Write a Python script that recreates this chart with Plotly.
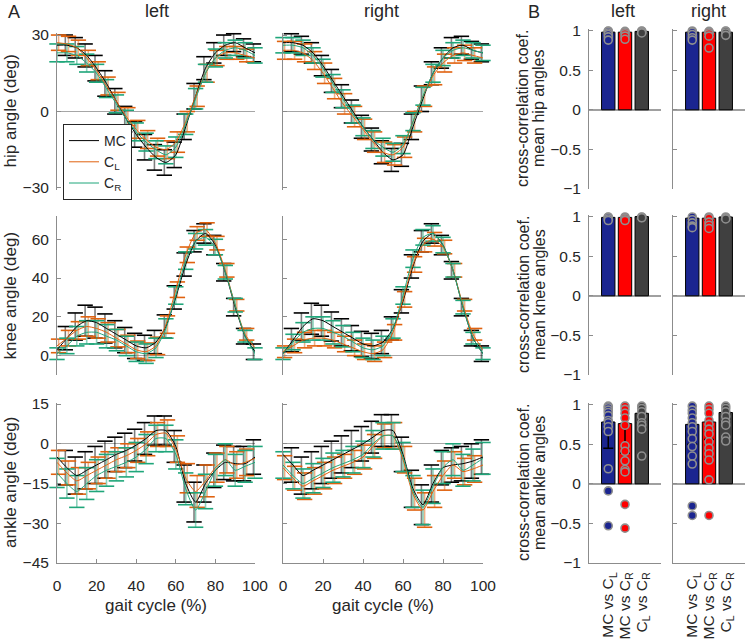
import plotly.graph_objects as go

# ---------------- data ----------------
gait_pct = [0, 5, 10, 15, 20, 25, 30, 35, 40, 45, 50, 55, 60, 65, 70, 75, 80, 85, 90, 95, 100]

hip_left_mc = [26, 26, 25, 22, 17, 11, 4, -3, -9, -14, -18, -20, -17, -6, 6, 17, 23, 26, 27, 25, 23]
hip_left_mc_sd = [4, 4, 4, 4.5, 5, 5, 5, 5, 5, 5, 5, 5, 5, 5, 5, 4.5, 4, 4, 3.5, 3.5, 3.5]
hip_left_cl = [27, 26.5, 25, 21, 16, 10, 4, -2, -7, -11, -14, -15, -12, -4, 6, 15, 21, 23, 23, 22, 21]
hip_left_cl_sd = [3, 3, 3, 3, 3.5, 3.5, 3.5, 3.5, 3.5, 3.5, 3.5, 3.5, 4, 4, 4, 3.5, 3, 2.5, 2.5, 2.5, 2.5]
hip_left_cr = [23, 23, 22, 19, 15, 9, 3, -3, -8, -12, -15, -17, -14, -5, 5, 15, 21, 24, 25, 24, 22]
hip_left_cr_sd = [3.5, 3.5, 3.5, 3.5, 3.5, 3.5, 3.5, 3.5, 3.5, 3.5, 3.5, 3.5, 4, 4, 4, 3.5, 3.5, 3, 3, 3, 3]

hip_right_mc = [27, 27, 26, 23, 18, 12, 6, 0, -6, -11, -16, -19, -17, -6, 5, 15, 21, 25, 26, 24, 23]
hip_right_mc_sd = [3.5, 3.5, 3.5, 4, 4, 4.5, 4.5, 4.5, 4.5, 4.5, 4.5, 4.5, 4.5, 5, 5, 4.5, 4, 4, 3.5, 3.5, 3.5]
hip_right_cl = [24, 24, 23, 20, 15, 9, 3, -2, -7, -12, -16, -17, -14, -4, 6, 14, 19, 22, 23, 22, 21]
hip_right_cl_sd = [3.5, 3.5, 3.5, 3.5, 4, 4, 4, 4, 4, 4, 4, 4, 4, 4, 4, 3.5, 3.5, 3, 3, 3, 3]
hip_right_cr = [26, 26, 25, 22, 17, 11, 5, -1, -6, -11, -14, -16, -13, -4, 6, 15, 21, 24, 25, 24, 23]
hip_right_cr_sd = [3, 3, 3, 3, 3.5, 3.5, 3.5, 3.5, 3.5, 3.5, 3.5, 3.5, 3.5, 3.5, 3.5, 3.5, 3, 3, 3, 3, 3]

knee_left_mc = [3, 9, 15, 18, 17, 14, 11, 8, 5, 4, 7, 15, 30, 47, 59, 63, 57, 43, 25, 10, 2]
knee_left_mc_sd = [5, 6, 7, 8, 8, 7.5, 7, 6.5, 6.5, 6.5, 6, 6, 6, 6, 5.5, 5, 5, 4.5, 4.5, 4, 4]
knee_left_cl = [5, 9, 13, 15, 14, 12, 9, 6, 3, 2, 5, 16, 34, 52, 63, 65, 58, 44, 26, 11, 4]
knee_left_cl_sd = [3.5, 4, 4.5, 5, 5, 5, 4.5, 4.5, 4.5, 4.5, 4.5, 4.5, 4, 4, 3.5, 3.5, 3.5, 3.5, 3, 3, 3]
knee_left_cr = [1, 5, 10, 12, 12, 10, 8, 5, 2, 1, 4, 14, 31, 49, 59, 61, 56, 43, 26, 10, 1]
knee_left_cr_sd = [3, 4, 5, 6, 6, 6, 5.5, 5, 5, 5, 5, 5, 4.5, 4.5, 4, 4, 4, 3.5, 3.5, 3, 3]

knee_right_mc = [1, 8, 15, 19, 18, 15, 12, 9, 6, 5, 7, 14, 28, 46, 59, 63, 57, 44, 25, 9, 1]
knee_right_mc_sd = [5, 6, 7, 8, 8, 7.5, 7, 6.5, 6.5, 6.5, 6, 6, 6, 6, 5.5, 5, 5, 4.5, 4.5, 4, 4]
knee_right_cl = [2, 5, 8, 9, 9, 8, 6, 4, 2, 1, 3, 12, 29, 47, 57, 60, 56, 44, 26, 11, 3]
knee_right_cl_sd = [3, 3.5, 4, 4, 4, 4, 4, 4, 4, 4, 4, 4, 4, 4, 3.5, 3.5, 3.5, 3.5, 3, 3, 3]
knee_right_cr = [1, 7, 12, 14, 14, 12, 10, 7, 4, 3, 5, 14, 31, 50, 61, 63, 57, 44, 25, 9, 1]
knee_right_cr_sd = [3, 4, 5, 6, 6, 6, 5.5, 5, 5, 5, 5, 5, 4.5, 4.5, 4, 4, 4, 3.5, 3.5, 3, 3]

ankle_left_mc = [-5, -9, -12, -10, -8, -6, -4, -2.5, -0.5, 2, 5, 5, -1, -15, -22, -15, -10, -7, -7.5, -7.5, -5]
ankle_left_mc_sd = [6, 6.5, 7, 7, 7, 7, 6.5, 6.5, 6, 6, 5.5, 5.5, 6, 7, 7.5, 7, 6.5, 6.5, 6.5, 6.5, 6.5]
ankle_left_cl = [-7, -11, -14, -12, -10, -8, -6, -4.5, -2.5, 0, 3.5, 4, -2, -13, -18, -14, -9, -6, -8, -7, -5.5]
ankle_left_cl_sd = [4.5, 4.5, 5, 5, 5, 5, 4.5, 4.5, 4.5, 4.5, 4.5, 5, 5, 5.5, 6, 6, 5.5, 5, 5, 5, 5]
ankle_left_cr = [-11, -15, -18, -15, -12, -10, -8.5, -7, -5, -2, 2, 2, -4, -17, -25, -18, -10, -6, -10, -8.5, -7]
ankle_left_cr_sd = [5.5, 5.5, 6, 6, 6, 6, 5.5, 5.5, 5.5, 5.5, 5, 5, 5.5, 6, 6.5, 6.5, 6, 6, 6, 6, 6]

ankle_right_mc = [-4, -8, -12, -10, -8, -6, -4, -2, 0, 2.5, 5, 5, -4, -17, -23, -15, -9, -8, -7.5, -6.5, -5]
ankle_right_mc_sd = [6, 6.5, 7, 7, 7, 7, 7, 7, 6.5, 6, 6, 6, 6.5, 7, 7.5, 7, 6.5, 6.5, 6.5, 6.5, 6.5]
ankle_right_cl = [-9, -13, -16, -14, -12, -10, -8.5, -7, -5, -1, 3, 3, -6, -19, -25, -18, -12, -8, -10.5, -9.5, -8]
ankle_right_cl_sd = [4.5, 4.5, 5, 5, 5, 5, 4.5, 4.5, 4.5, 4.5, 4.5, 5, 5, 6, 6.5, 6, 5.5, 5, 5, 5, 5]
ankle_right_cr = [-8, -12, -15, -13, -11, -9, -7.5, -6, -4, 0, 3, 3, -5, -18, -24, -16, -9, -6, -10, -8, -5.5]
ankle_right_cr_sd = [5, 5, 5.5, 5.5, 5.5, 5.5, 5, 5, 5, 5, 5, 5, 5.5, 6, 6.5, 6.5, 6, 6, 6, 6, 6]

# cross-correlation bars (B)
comparisons = ["MC vs C<sub>L</sub>", "MC vs C<sub>R</sub>", "C<sub>L</sub> vs C<sub>R</sub>"]
bar_hip_left = [0.98, 0.98, 0.99]
bar_hip_right = [0.98, 0.98, 0.98]
bar_knee_left = [0.99, 0.99, 1.0]
bar_knee_right = [0.98, 0.98, 0.995]
bar_ankle_left = [0.78, 0.76, 0.89]
bar_ankle_right = [0.75, 0.78, 0.90]
err_hip_left = [0.02, 0.02, 0.01]
err_hip_right = [0.02, 0.04, 0.01]
err_knee_left = [0.01, 0.01, 0.005]
err_knee_right = [0.03, 0.03, 0.01]
err_ankle_left = [0.33, 0.37, 0.12]
err_ankle_right = [0.25, 0.22, 0.12]

pts_hip_left = [[0.995, 0.99, 0.97, 0.95, 0.92, 0.88],
                [0.99, 0.98, 0.96, 0.93, 0.89],
                [0.995, 0.99, 0.98, 0.97]]
pts_hip_right = [[0.995, 0.98, 0.95, 0.91, 0.88],
                 [0.99, 0.98, 0.96, 0.93, 0.78],
                 [0.995, 0.99, 0.97, 0.94]]
pts_knee_left = [[0.995, 0.99, 0.97, 0.95],
                 [0.995, 0.98, 0.96, 0.95],
                 [0.995, 0.99, 0.985]]
pts_knee_right = [[0.995, 0.96, 0.92, 0.88, 0.86],
                  [0.995, 0.98, 0.93, 0.89, 0.85],
                  [0.995, 0.98, 0.97]]
pts_ankle_left = [[0.98, 0.96, 0.93, 0.90, 0.86, 0.80, 0.77, 0.72, 0.66, 0.19, -0.09, -0.53],
                  [0.98, 0.94, 0.89, 0.83, 0.74, 0.48, 0.41, 0.29, 0.18, 0.15, -0.26, -0.56],
                  [0.98, 0.95, 0.91, 0.85, 0.77, 0.74, 0.69, 0.35]]
pts_ankle_right = [[0.98, 0.93, 0.89, 0.83, 0.77, 0.72, 0.66, 0.57, 0.47, 0.35, 0.25, -0.28, -0.40],
                   [0.98, 0.94, 0.89, 0.80, 0.75, 0.69, 0.63, 0.53, 0.45, 0.38, 0.30, 0.05, -0.40],
                   [0.98, 0.95, 0.91, 0.85, 0.78, 0.74, 0.59, 0.54]]

line_data = {
    ("hip", "left"): {"MC": (hip_left_mc, hip_left_mc_sd), "CL": (hip_left_cl, hip_left_cl_sd), "CR": (hip_left_cr, hip_left_cr_sd)},
    ("hip", "right"): {"MC": (hip_right_mc, hip_right_mc_sd), "CL": (hip_right_cl, hip_right_cl_sd), "CR": (hip_right_cr, hip_right_cr_sd)},
    ("knee", "left"): {"MC": (knee_left_mc, knee_left_mc_sd), "CL": (knee_left_cl, knee_left_cl_sd), "CR": (knee_left_cr, knee_left_cr_sd)},
    ("knee", "right"): {"MC": (knee_right_mc, knee_right_mc_sd), "CL": (knee_right_cl, knee_right_cl_sd), "CR": (knee_right_cr, knee_right_cr_sd)},
    ("ankle", "left"): {"MC": (ankle_left_mc, ankle_left_mc_sd), "CL": (ankle_left_cl, ankle_left_cl_sd), "CR": (ankle_left_cr, ankle_left_cr_sd)},
    ("ankle", "right"): {"MC": (ankle_right_mc, ankle_right_mc_sd), "CL": (ankle_right_cl, ankle_right_cl_sd), "CR": (ankle_right_cr, ankle_right_cr_sd)},
}
bar_data = {
    ("hip", "left"): (bar_hip_left, err_hip_left, pts_hip_left),
    ("hip", "right"): (bar_hip_right, err_hip_right, pts_hip_right),
    ("knee", "left"): (bar_knee_left, err_knee_left, pts_knee_left),
    ("knee", "right"): (bar_knee_right, err_knee_right, pts_knee_right),
    ("ankle", "left"): (bar_ankle_left, err_ankle_left, pts_ankle_left),
    ("ankle", "right"): (bar_ankle_right, err_ankle_right, pts_ankle_right),
}

# ---------------- styling / layout ----------------
W, H = 747, 642
FONT = "Liberation Sans, Arial, Helvetica, sans-serif"
TXT = "#262626"
AXC = "#8c8c8c"

def fx(p):
    return p / W

def fy(p):
    return 1 - p / H

LINE_COLS = [(57, 255), (283, 483)]
BAR_COLS = [(589, 661), (673, 745)]
LINE_ROWS = [(33, 190), (216, 375), (403, 563)]
BAR_ROWS = [(29, 189), (215, 375), (403, 563)]

joints = ["hip", "knee", "ankle"]
sides = ["left", "right"]
y_ranges = {"hip": [-30.8, 30.8], "knee": [-10, 72], "ankle": [-45, 15.4]}
y_ticks = {"hip": [-30, 0, 30], "knee": [0, 20, 40, 60], "ankle": [-45, -30, -15, 0, 15]}
bar_ticks = [-1, -0.5, 0, 0.5, 1]
bar_ticktext = ["\u22121", "\u22120.5", "0", "0.5", "1"]
gait_ticks = [0, 20, 40, 60, 80, 100]

series_names = {"MC": "MC", "CL": "C<sub>L</sub>", "CR": "C<sub>R</sub>"}
series_style = {
    "MC": dict(color="#000000", err="rgba(0,0,0,0.5)", dx=-0.8),
    "CL": dict(color="#E0620F", err="rgba(224,98,15,0.5)", dx=0.8),
    "CR": dict(color="#1FA67A", err="rgba(31,166,122,0.5)", dx=0.0),
}
bar_colors = ["#1b2590", "#ff0000", "#404040"]

fig = go.Figure()
layout = {}

def axname(kind, idx):
    return kind if idx == 1 else f"{kind}{idx}"

for r, joint in enumerate(joints):
    for c, side in enumerate(sides):
        idx = r * 4 + c + 1
        xa, ya = axname("x", idx), axname("y", idx)
        sd_dict = line_data[(joint, side)]
        for key in ["MC", "CL", "CR"]:
            mean, sd = sd_dict[key]
            st = series_style[key]
            xs = [g + st["dx"] for g in gait_pct]
            fig.add_trace(go.Scatter(
                x=xs, y=mean, mode="markers", xaxis=xa, yaxis=ya,
                marker=dict(size=2, color="rgba(0,0,0,0)"),
                error_y=dict(type="data", array=sd, symmetric=True, width=0,
                             thickness=1.6, color=st["err"]),
                showlegend=False, hoverinfo="skip", cliponaxis=False))
            ups = [m + s for m, s in zip(mean, sd)]
            downs = [m - s for m, s in zip(mean, sd)]
            fig.add_trace(go.Scatter(
                x=xs + xs, y=ups + downs, mode="markers", xaxis=xa, yaxis=ya,
                marker=dict(symbol="line-ew", size=11,
                            line=dict(width=1.6, color=st["color"])),
                showlegend=False, hoverinfo="skip", cliponaxis=False))
        for key in ["MC", "CL", "CR"]:
            mean, sd = sd_dict[key]
            st = series_style[key]
            fig.add_trace(go.Scatter(
                x=gait_pct, y=mean, mode="lines", xaxis=xa, yaxis=ya,
                name=series_names[key], legendgroup=key,
                showlegend=(idx == 1),
                line=dict(color=st["color"], width=1, shape="spline", smoothing=0.6)))

        # bar panels
        bidx = r * 4 + 2 + c + 1
        bxa, bya = axname("x", bidx), axname("y", bidx)
        vals, errs, pts = bar_data[(joint, side)]
        fig.add_trace(go.Bar(
            x=[1, 2, 3], y=vals, width=0.8, xaxis=bxa, yaxis=bya,
            marker=dict(color=bar_colors, line=dict(color="black", width=1)),
            error_y=dict(type="data", symmetric=False, array=[0, 0, 0],
                         arrayminus=errs, color="black", thickness=1.5, width=5),
            showlegend=False, hoverinfo="skip"))
        for k in range(3):
            fig.add_trace(go.Scatter(
                x=[k + 1] * len(pts[k]), y=pts[k], mode="markers",
                xaxis=bxa, yaxis=bya, cliponaxis=False,
                marker=dict(size=8, color=bar_colors[k],
                            line=dict(color="#8f8f8f", width=1.6)),
                showlegend=False, hoverinfo="skip"))

tickfont = dict(family=FONT, size=15.5, color=TXT)

for r, joint in enumerate(joints):
    for c in range(4):
        idx = r * 4 + c + 1
        xk = "xaxis" if idx == 1 else f"xaxis{idx}"
        yk = "yaxis" if idx == 1 else f"yaxis{idx}"
        if c < 2:
            x0, x1 = LINE_COLS[c]
            y0, y1 = LINE_ROWS[r]
            xax = dict(domain=[fx(x0), fx(x1)], anchor=axname("y", idx), range=[0, 100],
                       showgrid=False, zeroline=False, fixedrange=True, automargin=False)
            if joint == "ankle":
                xax.update(showline=True, linecolor=AXC, linewidth=1, ticks="inside",
                           ticklen=4, tickcolor=AXC, tickvals=gait_ticks,
                           tickfont=tickfont, ticklabelstandoff=8,
                           title=dict(text="gait cycle (%)", standoff=6,
                                      font=dict(family=FONT, size=17, color=TXT)))
            else:
                xax.update(visible=False)
            yax = dict(domain=[fy(y1), fy(y0)], anchor=axname("x", idx),
                       range=y_ranges[joint], tickvals=y_ticks[joint],
                       showline=True, linecolor=AXC, linewidth=1, ticks="inside",
                       ticklen=4, tickcolor=AXC, showgrid=False,
                       zeroline=True, zerolinecolor="#a6a6a6", zerolinewidth=1,
                       showticklabels=(c == 0), tickfont=tickfont, ticklabelstandoff=4,
                       fixedrange=True, automargin=False)
        else:
            x0, x1 = BAR_COLS[c - 2]
            y0, y1 = BAR_ROWS[r]
            xax = dict(domain=[fx(x0), fx(x1)], anchor=axname("y", idx),
                       range=[-0.15, 4.15], showgrid=False, zeroline=False,
                       fixedrange=True, automargin=False)
            if joint == "ankle":
                xax.update(showline=True, linecolor=AXC, linewidth=1, ticks="",
                           tickvals=[1, 2, 3], ticktext=comparisons, tickangle=-90,
                           tickfont=tickfont, ticklabelstandoff=2)
            else:
                xax.update(visible=False)
            yax = dict(domain=[fy(y1), fy(y0)], anchor=axname("x", idx),
                       range=[-1, 1.02], tickvals=bar_ticks, ticktext=bar_ticktext,
                       showline=True, linecolor=AXC, linewidth=1, ticks="inside",
                       ticklen=4, tickcolor=AXC, showgrid=False,
                       zeroline=True, zerolinecolor="#a0a0a0", zerolinewidth=1.6,
                       showticklabels=(c == 2), tickfont=tickfont, ticklabelstandoff=4,
                       fixedrange=True, automargin=False)
        layout[xk] = xax
        layout[yk] = yax

annotations = []

def txt(x, y, s, size, angle=0):
    annotations.append(dict(x=fx(x), y=fy(y), xref="paper", yref="paper", text=s,
                            showarrow=False, textangle=angle, xanchor="center",
                            yanchor="middle", font=dict(family=FONT, size=size, color=TXT)))

txt(14, 12, "A", 18)
txt(534, 12, "B", 18)
txt(157, 11, "left", 18)
txt(381, 11, "right", 18)
txt(623, 11, "left", 18)
txt(708, 11, "right", 18)
for r, joint in enumerate(joints):
    yc = (LINE_ROWS[r][0] + LINE_ROWS[r][1]) / 2
    txt(10, yc, f"{joint} angle (deg)", 17, -90)
    ybc = (BAR_ROWS[r][0] + BAR_ROWS[r][1]) / 2
    txt(523, ybc, "cross-correlation coef.", 16, -90)
    txt(539, ybc, f"mean {joint} angles", 16, -90)

layout.update(
    width=W, height=H,
    margin=dict(l=0, r=0, t=0, b=0, autoexpand=False),
    paper_bgcolor="white", plot_bgcolor="white",
    font=dict(family=FONT, color=TXT),
    barmode="overlay",
    annotations=annotations,
    legend=dict(x=fx(63), y=fy(124), xanchor="left", yanchor="top",
                bgcolor="white", bordercolor="#262626", borderwidth=1,
                font=dict(family=FONT, size=14, color=TXT),
                itemwidth=30, tracegroupgap=0, traceorder="normal"),
)
fig.update_layout(**layout)

fig.write_html("out.html", config={"displayModeBar": False},
               post_script="document.body.style.margin='0px';document.body.style.overflow='hidden';")
